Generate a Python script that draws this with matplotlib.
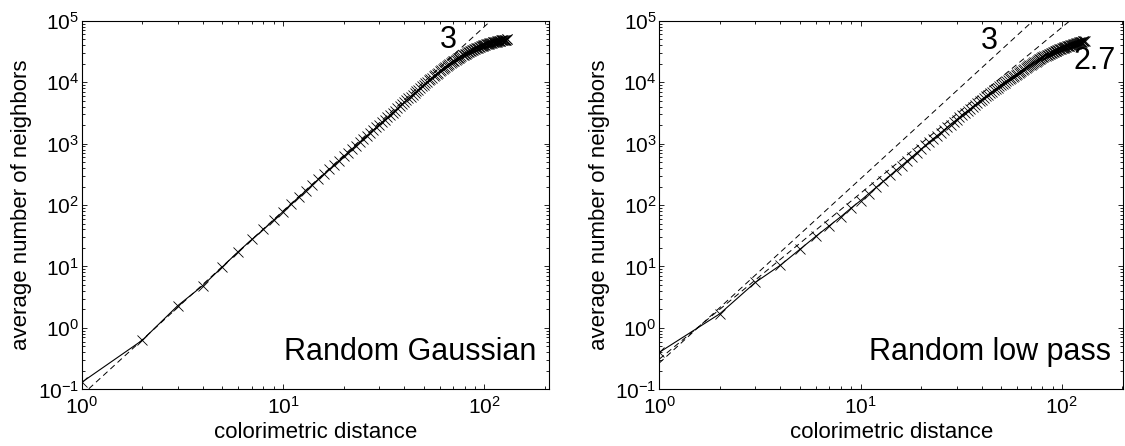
import matplotlib
matplotlib.use("Agg")
import matplotlib.pyplot as plt
import numpy as np
from matplotlib.ticker import NullFormatter

plt.rcParams["font.family"] = ["Liberation Sans", "DejaVu Sans"]
plt.rcParams["mathtext.fontset"] = "custom"
plt.rcParams["mathtext.rm"] = "Liberation Sans"
plt.rcParams["mathtext.it"] = "Liberation Sans:italic"
plt.rcParams["mathtext.bf"] = "Liberation Sans:bold"

# colorimetric distance (integer steps)
distance = np.arange(1, 131)

gaussian = [
    0.13, 0.63, 2.3, 4.9, 9.9, 17.5, 27.5, 40, 57, 78,
    104, 135, 172, 215, 263, 318, 381, 452, 530, 618,
    713, 817, 931, 1054, 1188, 1333, 1489, 1656, 1836, 2027,
    2232, 2449, 2681, 2925, 3185, 3459, 3748, 4053, 4373, 4709,
    5055, 5428, 5818, 6226, 6653, 7098, 7563, 8048, 8552, 9080,
    9588, 10114, 10658, 11220, 11801, 12401, 13019, 13657, 14315, 15000,
    15620, 16254, 16905, 17570, 18250, 18945, 19657, 20382, 21125, 21900,
    22530, 23169, 23817, 24474, 25140, 25815, 26499, 27192, 27893, 28600,
    29210, 29826, 30447, 31073, 31705, 32341, 32984, 33631, 34283, 34940,
    35465, 35992, 36521, 37052, 37586, 38121, 38658, 39197, 39738, 40281,
    40683, 41086, 41488, 41891, 42294, 42697, 43100, 43502, 43905, 44308,
    44630, 44951, 45272, 45592, 45912, 46231, 46550, 46868, 47185, 47502,
    47733, 47966, 48197, 48428, 48658, 48887, 49116, 49343, 49571, 49797,
]

low_pass = [
    0.4, 1.7, 5.5, 10.5, 19, 31, 46, 65, 90, 118,
    154, 197, 246, 303, 367, 440, 521, 612, 712, 822,
    938, 1063, 1199, 1345, 1502, 1669, 1848, 2039, 2242, 2457,
    2676, 2907, 3150, 3405, 3672, 3951, 4244, 4550, 4868, 5200,
    5526, 5862, 6212, 6573, 6946, 7332, 7730, 8141, 8564, 9000,
    9428, 9867, 10318, 10779, 11253, 11739, 12236, 12745, 13266, 13800,
    14306, 14823, 15348, 15885, 16430, 16986, 17554, 18129, 18716, 19312,
    19882, 20459, 21046, 21643, 22246, 22858, 23479, 24109, 24746, 25393,
    25916, 26442, 26973, 27508, 28047, 28590, 29139, 29690, 30246, 30804,
    31267, 31732, 32198, 32666, 33137, 33608, 34082, 34557, 35034, 35513,
    35940, 36367, 36795, 37224, 37654, 38085, 38517, 38949, 39383, 39816,
    40196, 40577, 40957, 41338, 41718, 42099, 42481, 42862, 43243, 43625,
    43989, 44352, 44716, 45079, 45443, 45806, 46170, 46533, 46897, 47260,
]

# dashed power-law guides: y = coef * x**slope
gaussian_coefs = [0.08]
gaussian_slopes = [3]
low_pass_coefs = [0.268, 0.31]
low_pass_slopes = [3, 2.7]
guide_x = np.array([1.0, 210.0])

panel_names = ["Random Gaussian", "Random low pass"]


def draw_panel(ax, y, coefs, slopes, name, xmax):
    for c, s in zip(coefs, slopes):
        ax.plot(guide_x, c * guide_x**s, "--", color="k", lw=0.7, dashes=(6, 4))
    ax.plot(distance, y, "-", color="k", lw=0.8, marker="x", ms=7, mew=0.6)
    ax.set_xscale("log")
    ax.set_yscale("log")
    ax.set_xlim(1, xmax)
    ax.set_ylim(0.1, 1e5)
    ax.tick_params(which="both", direction="in", top=True, right=True,
                   labelsize=15, width=0.6)
    ax.tick_params(which="major", length=3.5)
    ax.tick_params(which="minor", length=2)
    ax.tick_params(axis="y", pad=2)
    ax.tick_params(axis="x", pad=5)
    ax.xaxis.set_minor_formatter(NullFormatter())
    ax.yaxis.set_minor_formatter(NullFormatter())
    for sp in ax.spines.values():
        sp.set_linewidth(0.8)
    ax.set_xlabel("colorimetric distance", fontsize=16, labelpad=3)
    ax.set_ylabel("average number of neighbors", fontsize=16, labelpad=4)
    ax.text(0.974, 0.08, name, transform=ax.transAxes, ha="right",
            va="baseline", fontsize=22)


fig = plt.figure(figsize=(11.25, 4.46), dpi=100)
ax1 = fig.add_axes([0.0726, 0.127, 0.4152, 0.8265])
ax2 = fig.add_axes([0.586, 0.127, 0.4125, 0.8265])

draw_panel(ax1, gaussian, gaussian_coefs, gaussian_slopes, panel_names[0], 209)
ax1.text(66, 4.9e4, "3", ha="center", va="center", fontsize=22)

draw_panel(ax2, low_pass, low_pass_coefs, low_pass_slopes, panel_names[1], 202)
ax2.text(43.5, 4.7e4, "3", ha="center", va="center", fontsize=22)
ax2.text(146, 2.2e4, "2.7", ha="center", va="center", fontsize=22)

fig.savefig("out.png", dpi=100)
